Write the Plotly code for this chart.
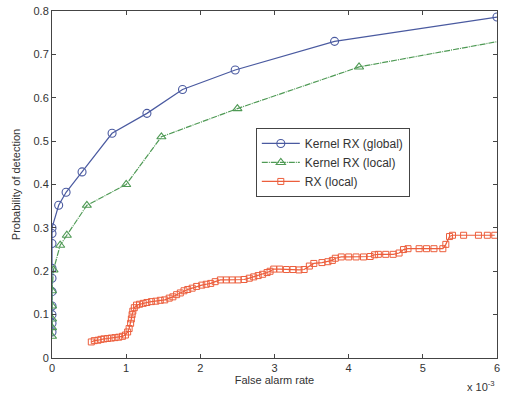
import plotly.graph_objects as go

# Data (false alarm rate in units of 1e-3, probability of detection)
global_x = [0, 0, 0, 0, 0, 0, 0, 0, 0, 0, 0.09, 0.19, 0.405, 0.81, 1.28, 1.76, 2.47, 3.81, 6.0]
global_y = [0.06, 0.08, 0.10, 0.12, 0.153, 0.184, 0.207, 0.264, 0.287, 0.30, 0.352, 0.382, 0.429, 0.518, 0.564, 0.619, 0.664, 0.730, 0.786]

local_x = [0, 0, 0, 0, 0, 0.02, 0.11, 0.20, 0.47, 1.0, 1.475, 2.50, 4.14, 6.6]
local_y = [0.05, 0.07, 0.09, 0.12, 0.155, 0.203, 0.26, 0.283, 0.352, 0.40, 0.51, 0.575, 0.671, 0.748]

rx_x = [0.53, 0.57, 0.62, 0.66, 0.70, 0.75, 0.80, 0.85, 0.90, 0.95, 0.99, 1.02, 1.04, 1.06, 1.07, 1.08,
        1.09, 1.11, 1.14, 1.18, 1.23, 1.28, 1.34, 1.40, 1.46, 1.52, 1.58, 1.63, 1.68, 1.73, 1.78, 1.83,
        1.89, 1.95, 2.02, 2.08, 2.14, 2.20, 2.27, 2.35, 2.43, 2.51, 2.59, 2.66, 2.72, 2.78, 2.84, 2.90,
        2.94, 2.99, 3.07, 3.16, 3.25, 3.33, 3.40, 3.47, 3.53, 3.64, 3.72, 3.78, 3.82, 3.90, 4.00, 4.10,
        4.20, 4.29, 4.35, 4.40, 4.50, 4.60, 4.68, 4.74, 4.80, 4.95, 5.05, 5.15, 5.27, 5.31, 5.36, 5.40,
        5.55, 5.75, 5.87, 5.97]
rx_y = [0.037, 0.040, 0.041, 0.043, 0.044, 0.045, 0.046, 0.047, 0.048, 0.050, 0.053, 0.060, 0.068, 0.080, 0.090, 0.100,
        0.108, 0.116, 0.122, 0.124, 0.126, 0.128, 0.130, 0.131, 0.133, 0.134, 0.138, 0.141, 0.146, 0.150, 0.155, 0.158,
        0.161, 0.165, 0.168, 0.170, 0.172, 0.176, 0.180, 0.180, 0.180, 0.180, 0.181, 0.184, 0.187, 0.190, 0.193, 0.197,
        0.200, 0.205, 0.205, 0.204, 0.204, 0.203, 0.204, 0.212, 0.218, 0.220, 0.222, 0.225, 0.230, 0.233, 0.233, 0.233,
        0.233, 0.234, 0.238, 0.239, 0.239, 0.239, 0.242, 0.250, 0.252, 0.252, 0.252, 0.252, 0.252, 0.262, 0.280, 0.283,
        0.283, 0.283, 0.283, 0.283]

x_ticks = [0, 1, 2, 3, 4, 5, 6]
y_ticks = [0, 0.1, 0.2, 0.3, 0.4, 0.5, 0.6, 0.7, 0.8]
y_tick_labels = ["0", "0.1", "0.2", "0.3", "0.4", "0.5", "0.6", "0.7", "0.8"]

FONT = "Liberation Sans, Arial"

fig = go.Figure()
fig.add_trace(go.Scatter(
    x=global_x, y=global_y, mode="lines+markers", name="Kernel RX (global)",
    line=dict(color="#4a5aa0", width=1.2),
    marker=dict(symbol="circle-open", size=8, color="#4a5aa0", line=dict(width=1.1)),
))
fig.add_trace(go.Scatter(
    x=local_x, y=local_y, mode="lines+markers", name="Kernel RX (local)",
    line=dict(color="#4f9a55", width=1.2, dash="6px,1px,1px,1px"),
    marker=dict(symbol="triangle-up-open", size=8, color="#4f9a55", line=dict(width=1.1)),
))
fig.add_trace(go.Scatter(
    x=rx_x, y=rx_y, mode="lines+markers", name="RX (local)",
    line=dict(color="#ec5e3c", width=1.2),
    marker=dict(symbol="square-open", size=6, color="#ec5e3c", line=dict(width=1)),
))

axis_common = dict(
    showline=True, linecolor="#444", linewidth=1, mirror="ticks",
    ticks="inside", ticklen=4, tickcolor="#444", showgrid=False, zeroline=False,
    automargin=False,
    tickfont=dict(family=FONT, size=11, color="#333"),
)

fig.update_xaxes(range=[0, 6.0001], tickvals=x_ticks, ticktext=[str(t) for t in x_ticks],
                 title=dict(text="False alarm rate", font=dict(family=FONT, size=11, color="#333"), standoff=2),
                 **axis_common)
fig.update_yaxes(range=[0, 0.8], tickvals=y_ticks, ticktext=y_tick_labels,
                 title=dict(text="Probability of detection", font=dict(family=FONT, size=11, color="#333"), standoff=10),
                 **axis_common)

fig.add_annotation(text="x 10<sup>-3</sup>", xref="paper", yref="paper", x=1.0, y=-0.081,
                   xanchor="right", yanchor="middle", showarrow=False,
                   font=dict(family=FONT, size=11, color="#333"))

fig.update_layout(
    width=507, height=394,
    margin=dict(l=52, r=10, t=11, b=36, autoexpand=False),
    paper_bgcolor="white", plot_bgcolor="white",
    showlegend=True,
    legend=dict(x=0.458, y=0.663, xanchor="left", yanchor="top",
                bgcolor="white", bordercolor="#444", borderwidth=1,
                font=dict(family=FONT, size=12, color="#333"),
                tracegroupgap=0, itemwidth=38),
)

fig.write_html("out.html", config={"displayModeBar": False},
               post_script="document.body.style.margin='0';")
